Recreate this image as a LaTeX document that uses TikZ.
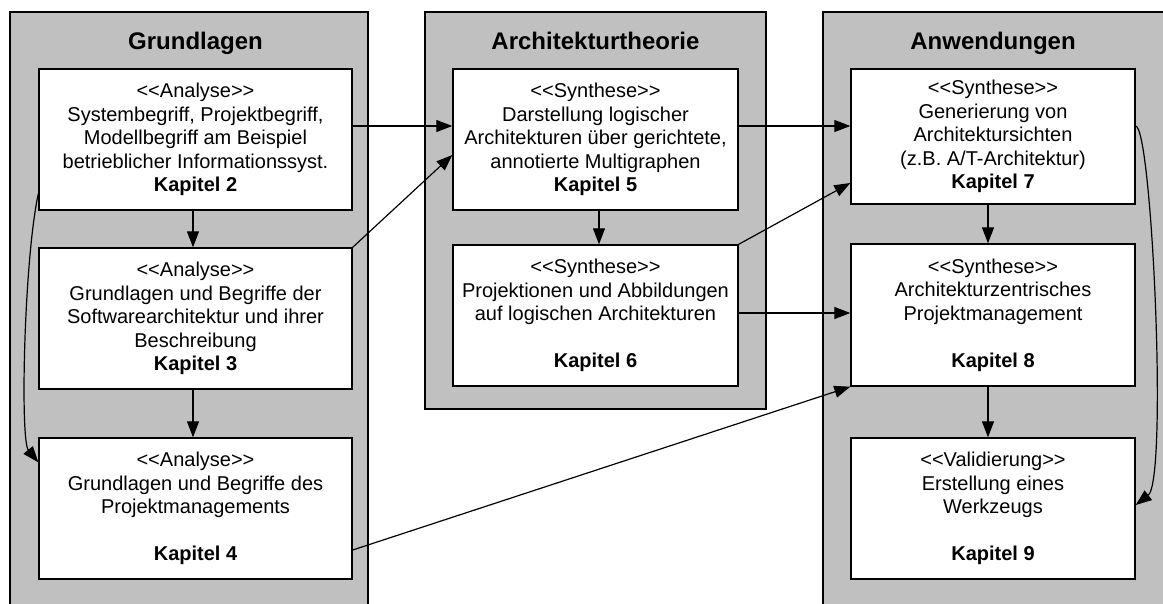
\documentclass[tikz,border=0pt]{standalone}
\usepackage{fontspec}
\setmainfont{Liberation Sans}
\usetikzlibrary{arrows.meta,calc}
\definecolor{panelgray}{HTML}{C0C0C0}
% stereotype brackets, kept apart so they are not turned into guillemets
\newcommand\stl{<\kern0pt<}
\newcommand\str{>\kern0pt>}
\begin{document}
\begin{tikzpicture}[x=1pt,y=-1pt,
  panel/.style={draw=black, fill=panelgray, line width=1.3pt},
  chap/.style={draw=black, fill=white, line width=1.4pt, align=center,
    inner sep=0pt, font=\fontsize{20}{23.5}\selectfont},
  paneltitle/.style={font=\fontsize{24}{28}\selectfont\bfseries, anchor=base},
  link/.style={line width=1.2pt, -{Triangle[length=16pt,width=12pt]}},
]
\useasboundingbox (0,0) rectangle (1163,603);
\clip (0,0) rectangle (1163,603);

% column panels
\draw[panel] (10,12) rectangle (368,620);
\draw[panel] (425,12) rectangle (766,409);
\draw[panel] (823,12) rectangle (1180,620);

\node[paneltitle] (tg) at (195.5,49) {Grundlagen};
\node[paneltitle] (ta) at (595.5,49) {Architekturtheorie};
\node[paneltitle] (tw) at (993,49) {Anwendungen};

% chapters: Grundlagen
\node[chap, minimum width=313pt, minimum height=141pt] (b2) at (195.5,139.5)
  {\stl Analyse\str\\Systembegriff, Projektbegriff,\\Modellbegriff am Beispiel\\betrieblicher Informationssyst.\\\textbf{Kapitel 2}};
\node[chap, minimum width=313pt, minimum height=141pt] (b3) at (195.5,318.5)
  {\stl Analyse\str\\Grundlagen und Begriffe der\\Softwarearchitektur und ihrer\\Beschreibung\\\textbf{Kapitel 3}};
\node[chap, minimum width=313pt, minimum height=141pt] (b4) at (195.5,508.5)
  {\stl Analyse\str\\Grundlagen und Begriffe des\\Projektmanagements\\\mbox{}\\\textbf{Kapitel 4}};

% chapters: Architekturtheorie
\node[chap, minimum width=285pt, minimum height=141pt] (b5) at (595.5,139.5)
  {\stl Synthese\str\\Darstellung logischer\\Architekturen über gerichtete,\\annotierte Multigraphen\\\textbf{Kapitel 5}};
\node[chap, minimum width=285pt, minimum height=141pt] (b6) at (595.5,315.5)
  {\stl Synthese\str\\Projektionen und Abbildungen\\auf logischen Architekturen\\\mbox{}\\\textbf{Kapitel 6}};

% chapters: Anwendungen
\node[chap, minimum width=284pt, minimum height=135pt] (b7) at (993,136.5)
  {\stl Synthese\str\\Generierung von\\Architektursichten\\(z.B. A/T-Architektur)\\\textbf{Kapitel 7}};
\node[chap, minimum width=284pt, minimum height=142pt] (b8) at (993,315)
  {\stl Synthese\str\\Architekturzentrisches\\Projektmanagement\\\mbox{}\\\textbf{Kapitel 8}};
\node[chap, minimum width=284pt, minimum height=141pt] (b9) at (993,508.5)
  {\stl Validierung\str\\Erstellung eines\\Werkzeugs\\\mbox{}\\\textbf{Kapitel 9}};

% dependencies inside the columns
\draw[link] ($(b2.south)+(-2.5,0)$) -- ($(b3.north)+(-2.5,0)$);
\draw[link] ($(b3.south)+(-2.5,0)$) -- ($(b4.north)+(-2.5,0)$);
\draw[link] ($(b5.south)+(3.5,0)$) -- ($(b6.north)+(3.5,0)$);
\draw[link] ($(b7.south)+(-5,0)$) -- ($(b8.north)+(-5,0)$);
\draw[link] ($(b8.south)+(-5,0)$) -- ($(b9.north)+(-5,0)$);

% dependencies across the columns
\draw[link] ($(b2.east)+(0,-13.5)$) -- ($(b5.west)+(0,-13.5)$);
\draw[link] (b3.north east) -- ($(b5.west)+(0,15.5)$);
\draw[link] ($(b5.east)+(0,-13.5)$) -- ($(b7.west)+(0,-10.5)$);
\draw[link] (b6.north east) -- ($(b7.west)+(0,46.5)$);
\draw[link] ($(b6.east)+(0,-2.5)$) -- ($(b8.west)+(0,-2)$);
\draw[link] ($(b4.east)+(0,41.5)$) -- (b8.south west);

% long bends
\draw[link] ($(b2.south west)+(0,-17)$) .. controls (24,260) and (20,440) .. ($(b4.north west)+(0,25)$);
\draw[link] ($(b7.east)+(0,-10.5)$) .. controls (1152,128) and (1168,480) .. ($(b9.east)+(0,-3.5)$);
\end{tikzpicture}
\end{document}
